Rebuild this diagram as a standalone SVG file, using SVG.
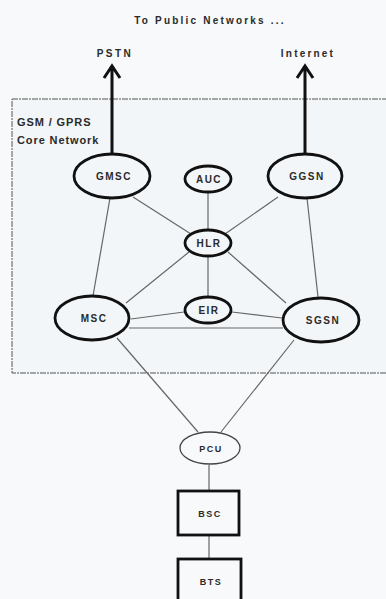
<svg xmlns="http://www.w3.org/2000/svg" width="386" height="599" viewBox="0 0 386 599">
<style>
.t{font-family:"Liberation Sans",Arial,sans-serif;font-weight:bold;fill:#2a2a2a;text-anchor:middle;letter-spacing:1.5px;font-size:10px}
.n{fill:none;stroke:#111;stroke-width:2.8}
.thin{fill:none;stroke:#444;stroke-width:1.3}
.c{stroke:#666;stroke-width:1.2;fill:none}
.ar{stroke:#111;stroke-width:3;fill:none}
</style>
<rect x="0" y="0" width="386" height="599" fill="#f7f9fa"/>
<text class="t" x="210" y="24" style="letter-spacing:2.2px">To Public Networks ...</text>
<text class="t" x="115" y="57" style="letter-spacing:2.5px">PSTN</text>
<text class="t" x="308" y="57" style="letter-spacing:2.2px">Internet</text>
<rect x="12" y="99" width="380" height="274" fill="#f3f6f8" stroke="#555" stroke-width="1" stroke-dasharray="6,1,2,1"/>
<text class="t" x="17" y="126" style="text-anchor:start;letter-spacing:0.9px;font-size:11px">GSM / GPRS</text>
<text class="t" x="17" y="144" style="text-anchor:start;letter-spacing:0.9px;font-size:11px">Core Network</text>
<g id="connectors">
<path class="ar" d="M112,153 V66 M104,78 L112,66 L120,78"/>
<path class="ar" d="M305,153 V66 M297,78 L305,66 L313,78"/>
<line class="c" x1="110" y1="198" x2="93" y2="296"/>
<line class="c" x1="307" y1="198" x2="318" y2="297"/>
<line class="c" x1="133" y1="197" x2="191" y2="234"/>
<line class="c" x1="208" y1="193" x2="208" y2="229"/>
<line class="c" x1="278" y1="197" x2="225" y2="234"/>
<line class="c" x1="189" y1="252" x2="126" y2="303"/>
<line class="c" x1="228" y1="252" x2="286" y2="303"/>
<line class="c" x1="208" y1="257" x2="208" y2="297"/>
<line class="c" x1="184" y1="312" x2="131" y2="319"/>
<line class="c" x1="232" y1="312" x2="282" y2="318"/>
<line class="c" x1="129" y1="328" x2="283" y2="328"/>
<line class="c" x1="117" y1="338" x2="198" y2="432"/>
<line class="c" x1="294" y1="340" x2="221" y2="432"/>
<line class="c" x1="209" y1="465" x2="209" y2="490"/>
<line class="c" x1="209" y1="535" x2="209" y2="558"/>
</g>
<g id="GMSC"><ellipse class="n" cx="112" cy="176" rx="38" ry="22" fill="#f3f6f8"/><text class="t" x="114" y="180">GMSC</text></g>
<g id="AUC"><ellipse class="n" cx="208" cy="179" rx="23" ry="13" fill="#f3f6f8"/><text class="t" x="209" y="183">AUC</text></g>
<g id="GGSN"><ellipse class="n" cx="305" cy="176" rx="37" ry="22" fill="#f3f6f8"/><text class="t" x="307" y="180">GGSN</text></g>
<g id="HLR"><ellipse class="n" cx="208" cy="243" rx="23" ry="13" fill="#f3f6f8"/><text class="t" x="209" y="247">HLR</text></g>
<g id="EIR"><ellipse class="n" cx="208" cy="310" rx="23" ry="13" fill="#f3f6f8"/><text class="t" x="209" y="314">EIR</text></g>
<g id="MSC"><ellipse class="n" cx="92" cy="318" rx="37" ry="22" fill="#f3f6f8"/><text class="t" x="94" y="322">MSC</text></g>
<g id="SGSN"><ellipse class="n" cx="321" cy="320" rx="38" ry="22" fill="#f3f6f8"/><text class="t" x="323" y="324">SGSN</text></g>
<g id="PCU"><ellipse class="thin" cx="210" cy="448" rx="30" ry="16" fill="#f7f9fa"/><text class="t" x="211" y="452" style="font-size:9px">PCU</text></g>
<g id="BSC"><rect class="n" x="178" y="491" width="61" height="44" fill="#f7f9fa"/><text class="t" x="210" y="517" style="font-size:9px">BSC</text></g>
<g id="BTS"><rect class="n" x="178" y="559" width="63" height="50" fill="#f7f9fa"/><text class="t" x="211" y="585" style="font-size:9px">BTS</text></g>
</svg>
